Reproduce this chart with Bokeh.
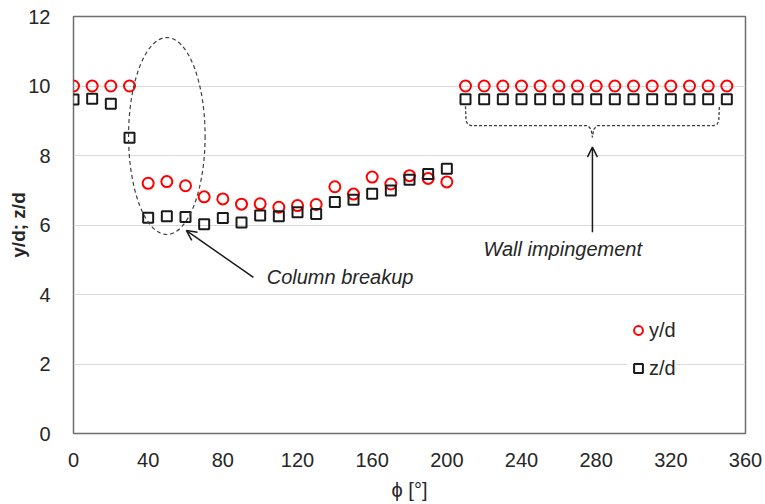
from bokeh.plotting import figure
from bokeh.models import (Arrow, OpenHead, Legend, LegendItem, FixedTicker, Range1d, Label)
from bokeh.embed import file_html
from bokeh.resources import INLINE

# ---- data ----
phi = [0, 10, 20, 30, 40, 50, 60, 70, 80, 90, 100, 110, 120, 130, 140, 150, 160, 170,
       180, 190, 200, 210, 220, 230, 240, 250, 260, 270, 280, 290, 300, 310, 320, 330, 340, 350]
y_d = [10, 10, 10, 10, 7.20, 7.25, 7.13, 6.81, 6.75, 6.60, 6.61, 6.51, 6.56, 6.59, 7.10,
       6.89, 7.38, 7.18, 7.42, 7.34, 7.24,
       10, 10, 10, 10, 10, 10, 10, 10, 10, 10, 10, 10, 10, 10, 10]
z_d = [9.61, 9.63, 9.49, 8.51, 6.21, 6.25, 6.23, 6.02, 6.20, 6.07, 6.27, 6.25, 6.37, 6.32,
       6.66, 6.73, 6.90, 6.99, 7.30, 7.47, 7.62,
       9.62, 9.62, 9.62, 9.62, 9.62, 9.62, 9.62, 9.62, 9.62, 9.62, 9.62, 9.62, 9.62, 9.62, 9.62]
x_ticks = [0, 40, 80, 120, 160, 200, 240, 280, 320, 360]
y_ticks = [0, 2, 4, 6, 8, 10, 12]

# annotation geometry (data units)
ellipse_center = (50, 8.56)
ellipse_size = (41, 5.67)
col_arrow = (96.4, 4.49, 60.5, 5.84)
col_text = (103.5, 4.49)
wall_arrow = (278, 5.79, 278, 8.24)
wall_text = (219.6, 5.32)
bracket_x = [210, 210.3, 211.2, 213, 275.5, 277.3, 278, 278.7, 280.5, 343, 344.8, 345.7, 346]
bracket_y = [9.42, 9.0, 8.9, 8.86, 8.86, 8.75, 8.52, 8.75, 8.86, 8.86, 8.9, 9.0, 9.42]

FONT = "Liberation Sans"
TXT = "#262626"

p = figure(width=765, height=504, output_backend="svg", toolbar_location=None,
           x_range=Range1d(0, 360), y_range=Range1d(0, 12),
           min_border_left=73, min_border_right=20, min_border_top=16, min_border_bottom=71)
p.background_fill_color = "white"
p.border_fill_color = "white"
p.outline_line_color = "#6e6e6e"
p.outline_line_width = 1.5

p.xgrid.grid_line_color = None
p.ygrid.grid_line_color = "#d9d9d9"
p.ygrid.grid_line_width = 1

p.xaxis.ticker = FixedTicker(ticks=x_ticks)
p.yaxis.ticker = FixedTicker(ticks=y_ticks)
for ax in (p.xaxis[0], p.yaxis[0]):
    ax.axis_line_color = None
    ax.major_tick_line_color = None
    ax.minor_tick_line_color = None
    ax.major_label_text_font = FONT
    ax.major_label_text_font_size = "20px"
    ax.major_label_text_color = TXT
    ax.axis_label_text_font = FONT
    ax.axis_label_text_color = TXT
    ax.axis_label_text_font_size = "20px"
p.xaxis.major_label_standoff = 13
p.yaxis.major_label_standoff = 17
p.xaxis.axis_label = "ϕ [°]"
p.xaxis.axis_label_text_font_style = "normal"
p.xaxis.axis_label_standoff = 9
p.yaxis.axis_label = "y/d; z/d"
p.yaxis.axis_label_text_font_style = "bold"
p.yaxis.axis_label_text_font_size = "19px"
p.yaxis.axis_label_standoff = -4

# data
r1 = p.scatter(phi, y_d, marker="circle", size=11, fill_color=None,
               line_color="#ff0000", line_width=2)
r2 = p.scatter(phi, z_d, marker="square", size=10, fill_color=None,
               line_color="#1a1a1a", line_width=2)

# ellipse annotation
p.ellipse(x=[ellipse_center[0]], y=[ellipse_center[1]], width=[ellipse_size[0]],
          height=[ellipse_size[1]], fill_color=None, line_color="#404040",
          line_width=1.2, line_dash="4 3")

# bracket
p.line(bracket_x, bracket_y, line_color="#404040", line_width=1.3, line_dash="3 2")

# arrows
p.add_layout(Arrow(end=OpenHead(size=10, line_width=1.5, line_color="#1a1a1a"),
                   x_start=col_arrow[0], y_start=col_arrow[1],
                   x_end=col_arrow[2], y_end=col_arrow[3],
                   line_width=1.5, line_color="#1a1a1a"))
p.add_layout(Arrow(end=OpenHead(size=10, line_width=1.5, line_color="#1a1a1a"),
                   x_start=wall_arrow[0], y_start=wall_arrow[1],
                   x_end=wall_arrow[2], y_end=wall_arrow[3],
                   line_width=1.5, line_color="#1a1a1a"))

# text annotations
p.add_layout(Label(x=col_text[0], y=col_text[1], text="Column breakup",
                   text_font=FONT, text_font_size="20px", text_font_style="italic",
                   text_color=TXT, text_baseline="middle", text_align="left"))
p.add_layout(Label(x=wall_text[0], y=wall_text[1], text="Wall impingement",
                   text_font=FONT, text_font_size="20px", text_font_style="italic",
                   text_color=TXT, text_baseline="middle", text_align="left"))

legend = Legend(items=[LegendItem(label="y/d", renderers=[r1]),
                       LegendItem(label="z/d", renderers=[r2])],
                location=(554, 53), background_fill_color="white",
                background_fill_alpha=1.0, border_line_color=None,
                label_text_font=FONT, label_text_font_size="20px", label_text_color=TXT,
                glyph_width=22, glyph_height=24, label_height=24, label_standoff=0,
                spacing=14, padding=10, margin=0)
p.add_layout(legend, "center")

open("out.html", "w").write(file_html(p, INLINE))
